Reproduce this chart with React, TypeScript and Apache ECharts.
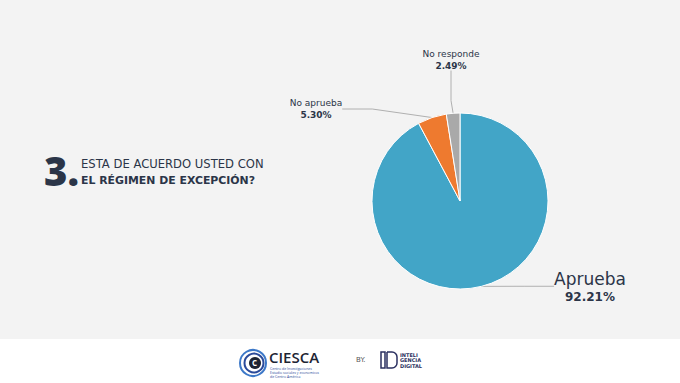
import React, { useEffect, useRef } from "react";
import * as echarts from "echarts";

const categories = ["Aprueba", "No aprueba", "No responde"];
const values = [92.21, 5.3, 2.49];
const colors = ["#42a5c7", "#ee7a2f", "#a9a9a9"];
const titleNumber = "3.";
const titleLine1 = "ESTA DE ACUERDO USTED CON";
const titleLine2 = "EL RÉGIMEN DE EXCEPCIÓN?";

const FONT = "'DejaVu Sans', 'Open Sans', sans-serif";
const DARK = "#2b3548";

export default function App() {
  const ref = useRef<HTMLDivElement>(null);
  useEffect(() => {
    document.body.style.margin = "0";
    const chart = echarts.init(ref.current!, null, { renderer: "svg" });
    const labelPos: Record<number, { x: number; y: number }> = {
      0: { x: 590, y: 287 },
      1: { x: 316, y: 109 },
      2: { x: 451, y: 60 },
    };
    chart.setOption({
      animation: false,
      backgroundColor: "#f3f3f3",
      graphic: [
        { type: "rect", shape: { x: 0, y: 339, width: 680, height: 44 }, style: { fill: "#ffffff" }, silent: true },
        {
          type: "text", x: 44, y: 150,
          style: { text: titleNumber, font: `800 40px 'Open Sans', sans-serif`, fill: DARK },
        },
        {
          type: "text", x: 81, y: 158,
          style: { text: titleLine1, font: `400 11.6px ${FONT}`, fill: DARK },
        },
        {
          type: "text", x: 81, y: 175,
          style: { text: titleLine2, font: `700 10.9px ${FONT}`, fill: DARK },
        },
        // CIESCA logo
        { type: "circle", shape: { cx: 253, cy: 363, r: 13 }, style: { fill: "none", stroke: "#3c78c8", lineWidth: 2 } },
        { type: "circle", shape: { cx: 254, cy: 363, r: 9.5 }, style: { fill: "none", stroke: "#2a4a9a", lineWidth: 2 } },
        { type: "circle", shape: { cx: 255, cy: 363, r: 6 }, style: { fill: "#1d2433" } },
        { type: "text", x: 252, y: 358, style: { text: "C", font: `700 8px 'Open Sans', sans-serif`, fill: "#ffffff" } },
        { type: "text", x: 269, y: 349, style: { text: "CIESCA", font: `600 15px 'Open Sans', sans-serif`, fill: "#1d2433" } },
        { type: "text", x: 270, y: 366, style: { text: "Centro de Investigaciones\nEstudio sociales y economicos\nde Centro América", font: `400 3.5px 'Open Sans', sans-serif`, fill: "#2a4a9a", lineHeight: 4 } },
        { type: "text", x: 356, y: 356, style: { text: "BY.", font: `400 7px ${FONT}`, fill: "#555" } },
        // Inteligencia digital logo
        { type: "rect", shape: { x: 381, y: 352, width: 4, height: 16 }, style: { fill: "none", stroke: "#2b3060", lineWidth: 1.5 } },
        { type: "rect", shape: { x: 387, y: 352, width: 10, height: 16, r: [0, 5, 5, 0] }, style: { fill: "none", stroke: "#2b3060", lineWidth: 1.5 } },
        { type: "text", x: 400, y: 352, style: { text: "INTELI\nGENCIA\nDIGITAL", font: `700 5px ${FONT}`, fill: "#2b3060", lineHeight: 5.5 } },
      ],
      series: [
        {
          type: "pie",
          center: [460, 201],
          radius: 88,
          startAngle: 90,
          clockwise: true,
          itemStyle: { borderColor: "#ffffff", borderWidth: 1 },
          data: categories.map((name, i) => ({
            name,
            value: values[i],
            itemStyle: { color: colors[i] },
            label: i === 0
              ? {
                  formatter: (p: any) => `{n|${p.name}}\n{v|${p.value.toFixed(2)}%}`,
                  rich: {
                    n: { fontFamily: FONT, fontSize: 17, color: DARK, align: "center", lineHeight: 19 },
                    v: { fontFamily: FONT, fontSize: 12, fontWeight: 700, color: DARK, align: "center", lineHeight: 17 },
                  },
                }
              : undefined,
          })),
          label: {
            show: true,
            formatter: (p: any) => `{n|${p.name}}\n{v|${p.value.toFixed(2)}%}`,
            rich: {
              n: { fontFamily: FONT, fontSize: 9, color: DARK, align: "center", lineHeight: 12 },
              v: { fontFamily: FONT, fontSize: 9, fontWeight: 700, color: DARK, align: "center", lineHeight: 12 },
            },
          },
          labelLine: { show: true, length: 20, length2: 30, lineStyle: { color: "#b0b0b0", width: 1 } },
          labelLayout: (params: any) => {
            const p = labelPos[params.dataIndex];
            return { x: p.x, y: p.y, align: "center", verticalAlign: "middle" };
          },
        },
      ],
    });
    return () => chart.dispose();
  }, []);
  return <div ref={ref} style={{ width: 680, height: 383 }} />;
}
